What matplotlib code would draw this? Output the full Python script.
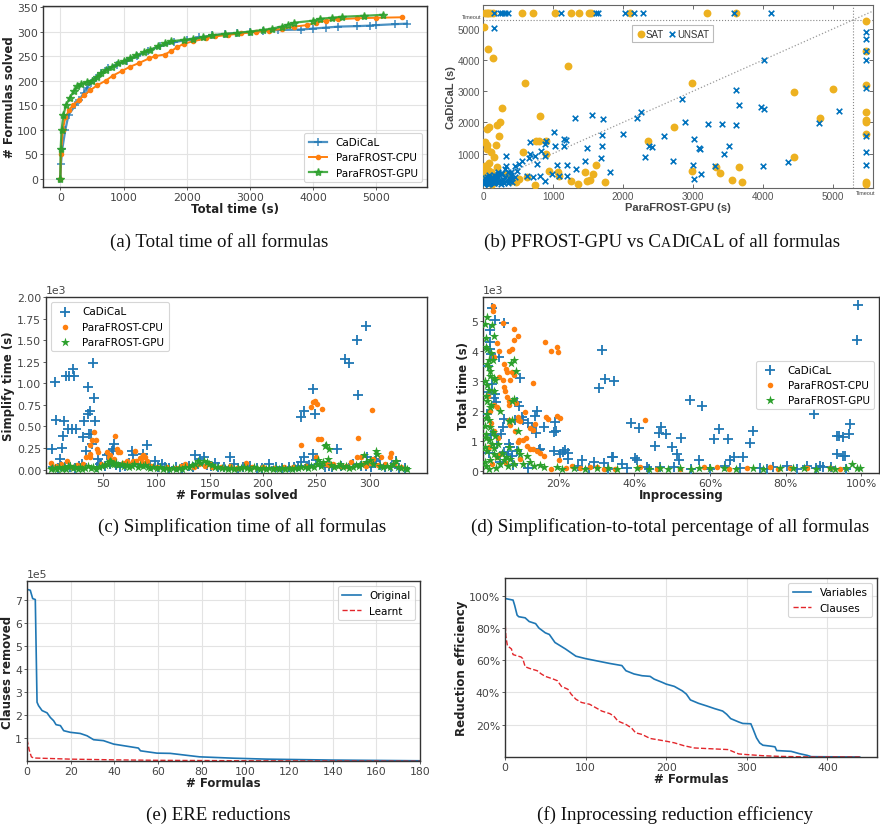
import numpy as np
import matplotlib
matplotlib.use("Agg")
import matplotlib.pyplot as plt
from matplotlib.ticker import PercentFormatter

# ---------------- (a) cactus data ----------------
cad_counts = [0, 30, 60, 100, 130, 150, 160, 175, 185, 195, 205, 215, 225, 232, 240, 250, 260, 270,
              278, 283, 288, 292, 295, 297, 299, 301, 303, 304, 306, 308, 310, 311, 312, 313, 315, 316]
cad_times = [0, 10, 30, 80, 130, 240, 300, 370, 420, 480, 560, 640, 760, 900, 1050, 1220, 1380, 1580,
             1800, 2000, 2200, 2400, 2600, 2800, 3000, 3200, 3450, 3800, 4000, 4200, 4400, 4700, 4900,
             5000, 5300, 5480]
cpu_counts = [0, 50, 100, 125, 140, 150, 160, 170, 180, 190, 200, 210, 220, 228, 236, 245, 250, 253,
              260, 268, 275, 280, 286, 290, 293, 296, 299, 302, 305, 310, 313, 318, 322, 325, 327, 328,
              329]
cpu_times = [0, 10, 40, 80, 140, 200, 290, 380, 470, 580, 720, 830, 980, 1100, 1250, 1400, 1500, 1650,
             1750, 1850, 1950, 2100, 2300, 2450, 2650, 2850, 3100, 3300, 3500, 3700, 3900, 4050, 4200,
             4400, 4700, 5000, 5400]
gpu_counts = [0, 60, 100, 130, 150, 165, 178, 188, 193, 197, 200, 208, 215, 222, 228, 235, 240, 246,
              252, 258, 263, 270, 276, 280, 283, 285, 288, 292, 295, 297, 300, 303, 306, 310, 314, 318,
              322, 326, 328, 330, 332, 334]
gpu_times = [0, 5, 20, 50, 90, 150, 210, 270, 330, 420, 500, 580, 650, 730, 820, 920, 1000, 1100,
             1200, 1330, 1420, 1550, 1650, 1750, 1950, 2100, 2250, 2400, 2600, 2800, 3000, 3200, 3350,
             3500, 3600, 3700, 4000, 4100, 4300, 4450, 4800, 5100]

# ---------------- (b) scatter data ----------------
sat_gpu = [25, 50, 75, 100, 145, 560, 720, 1030, 1260, 1370,
           1510, 1545, 2100, 3200, 3610, 15, 70, 145, 600, 1215,
           270, 820, 240, 200, 85, 50, 230, 190, 25, 50,
           60, 110, 160, 40, 70, 25, 120, 170, 570, 900,
           800, 760, 900, 940, 1070, 1080, 1260, 1360, 1460, 1480,
           1530, 1570, 1620, 1740, 2360, 2730, 2990, 2990, 3330, 3390,
           3550, 3650, 3700, 4440, 4440, 4820, 5000, 5470, 5470, 5470,
           5470, 5470, 5470, 5470, 5470, 5470, 740, 470, 400, 630,
           330, 510, 10, 20, 30, 45, 60, 90, 100, 130,
           180, 200]
sat_cad = [5500, 5500, 5500, 5500, 5500, 5500, 5500, 5500, 5500, 5500,
           5500, 5500, 5500, 5500, 5500, 5050, 4350, 4060, 3270, 3800,
           2450, 2190, 2020, 1910, 1860, 1790, 1550, 1280, 1360, 1270,
           1140, 1060, 900, 610, 480, 450, 420, 290, 1040, 1410,
           1410, 1410, 980, 450, 400, 270, 130, 20, 420, 130,
           150, 340, 640, 75, 1390, 1840, 450, 3250, 580, 370,
           160, 560, 85, 2960, 890, 2130, 3070, 5260, 4280, 3210,
           2320, 2090, 2000, 1630, 75, 20, 0, 100, 130, 240,
           340, 180, 100, 250, 600, 350, 180, 700, 50, 20,
           120, 560]
unsat_gpu = [157, 240, 267, 314, 357, 1110, 1620, 1640, 2030, 2150,
             2290, 3590, 4110, 157, 5476, 5476, 5476, 5476, 5476, 5476,
             5476, 5476, 4020, 3610, 3650, 3970, 4020, 5090, 4800, 3610,
             3410, 3220, 2880, 2840, 2250, 2200, 1720, 1560, 1310, 1010,
             2000, 1700, 1150, 1180, 1030, 900, 1150, 1490, 1700, 2590,
             2370, 2420, 3020, 3090, 3100, 3520, 3440, 1690, 2310, 2710,
             3000, 3010, 3120, 3320, 4000, 4360, 1450, 1820, 1330, 1200,
             1060, 1200, 880, 670, 670, 650, 770, 830, 890, 330,
             330, 520, 560, 740, 480, 630, 710, 890, 400, 260,
             190, 140, 95, 50, 10, 70, 120, 210, 310, 380,
             450, 810, 980, 1090, 30, 60, 90, 130, 170, 220,
             280, 350, 420, 20, 80, 150, 15, 25, 35, 45,
             55, 65, 75, 85, 100, 110, 125, 135, 150, 160,
             175, 190, 205, 220, 240, 255, 270, 290, 300, 320,
             340, 360, 375, 400, 420, 460]
unsat_cad = [5500, 5500, 5500, 5500, 5500, 5500, 5500, 5500, 5500, 5500,
             5500, 5500, 5500, 5020, 4890, 4670, 4280, 4000, 3090, 1570,
             1040, 640, 4000, 3050, 2560, 2480, 2430, 2350, 1970, 1910,
             1950, 1950, 2000, 2750, 2340, 2140, 2110, 2240, 2140, 1700,
             1630, 1600, 1470, 1440, 1250, 1410, 1230, 1180, 1250, 1570,
             1250, 1200, 1470, 1180, 1150, 1250, 980, 840, 890, 770,
             640, 180, 340, 590, 610, 720, 750, 420, 500, 640,
             640, 290, 930, 1360, 980, 860, 660, 1090, 1300, 930,
             610, 660, 770, 930, 450, 290, 240, 130, 400, 340,
             290, 180, 130, 75, 20, 40, 100, 400, 500, 130,
             610, 290, 340, 290, 60, 120, 30, 200, 90, 250,
             150, 60, 200, 10, 230, 60, 50, 120, 200, 80,
             260, 150, 30, 320, 60, 180, 240, 90, 300, 40,
             150, 210, 80, 330, 120, 20, 380, 190, 60, 260,
             110, 420, 210, 300, 90, 250]

# ---------------- (c) simplify time vs formula index ----------------
c_cad_x = [2, 4, 5, 9, 11, 12, 13, 15, 17, 18,
           20, 21, 22, 24, 31, 32, 34, 35, 35, 37,
           36, 38, 40, 41, 42, 39, 47, 53, 58, 60,
           59, 77, 78, 87, 91, 98, 105, 136, 141, 144,
           155, 169, 173, 206, 236, 236, 238, 238, 247, 249,
           247, 250, 269, 277, 281, 288, 289, 297, 298, 305,
           306, 325, 241, 253, 262, 297, 3, 7, 10, 14,
           19, 23, 27, 30, 44, 48, 51, 56, 62, 66,
           70, 74, 82, 94, 101, 108, 112, 118, 124, 130,
           134, 139, 147, 151, 158, 163, 176, 181, 188, 194,
           199, 212, 218, 224, 229, 233, 243, 258, 265, 273,
           284, 292, 301, 310, 315, 320, 328, 333, 55, 45]
c_cad_y = [240, 1020, 570, 125, 250, 390, 565, 1085, 475, 1085,
           475, 1170, 1085, 475, 375, 565, 220, 960, 650, 680,
           410, 410, 1240, 830, 565, 300, 65, 175, 220, 300,
           240, 220, 165, 180, 290, 100, 65, 165, 125, 145,
           75, 145, 65, 65, 85, 610, 680, 150, 930, 640,
           180, 115, 240, 1280, 1230, 1500, 870, 1660, 145, 105,
           125, 105, 45, 65, 45, 45, 30, 20, 45, 25,
           35, 15, 40, 60, 30, 55, 40, 70, 50, 35,
           45, 80, 60, 40, 25, 30, 20, 35, 20, 45,
           30, 60, 55, 45, 30, 25, 20, 30, 40, 20,
           15, 25, 20, 30, 25, 40, 50, 35, 30, 45,
           60, 40, 35, 50, 30, 25, 20, 15, 180, 120]
c_cpu_x = [1, 16, 31, 37, 39, 41, 43, 44, 45, 37,
           34, 37, 53, 55, 56, 61, 63, 64, 66, 72,
           78, 80, 81, 84, 86, 87, 89, 91, 86, 123,
           127, 169, 184, 236, 245, 247, 249, 251, 252, 254,
           255, 250, 288, 289, 292, 302, 311, 319, 320, 303,
           259, 266, 272, 297, 323, 5, 10, 20, 25, 28,
           48, 58, 68, 75, 95, 100, 110, 118, 135, 145,
           152, 160, 175, 190, 200, 210, 220, 228, 240, 262,
           278, 283, 295, 300, 308, 315, 330, 150, 140, 60]
c_cpu_y = [80, 105, 65, 145, 340, 435, 340, 240, 200, 280,
           145, 180, 200, 145, 165, 385, 240, 200, 200, 105,
           105, 220, 105, 135, 150, 165, 145, 105, 85, 45,
           65, 45, 75, 290, 730, 785, 800, 760, 355, 350,
           700, 145, 145, 370, 145, 690, 145, 145, 190, 125,
           65, 65, 45, 45, 65, 40, 60, 30, 50, 35,
           60, 90, 80, 60, 40, 30, 25, 20, 30, 40,
           25, 30, 20, 35, 25, 20, 30, 25, 40, 50,
           40, 90, 60, 80, 50, 60, 30, 60, 70, 120]
c_gpu_x = [2, 19, 55, 56, 58, 139, 144, 147, 252, 258,
           259, 262, 261, 272, 295, 300, 306, 307, 325, 1,
           4, 6, 8, 11, 13, 15, 17, 21, 23, 26,
           28, 30, 33, 35, 38, 40, 43, 46, 49, 51,
           53, 57, 60, 62, 64, 67, 69, 72, 74, 77,
           79, 82, 84, 87, 89, 92, 94, 97, 100, 103,
           106, 109, 112, 115, 118, 121, 124, 127, 130, 133,
           136, 141, 149, 152, 155, 158, 161, 164, 167, 170,
           173, 176, 179, 182, 185, 188, 191, 194, 197, 200,
           203, 206, 209, 212, 215, 218, 221, 224, 227, 230,
           233, 236, 239, 242, 245, 248, 251, 254, 256, 264,
           267, 270, 275, 278, 281, 284, 287, 290, 292, 297,
           303, 310, 313, 316, 319, 322, 327, 330, 333, 335]
c_gpu_y = [15, 45, 85, 105, 65, 95, 105, 85, 115, 270,
           280, 240, 125, 65, 165, 115, 220, 180, 105, 10,
           20, 8, 25, 12, 30, 10, 40, 15, 25, 10,
           35, 12, 20, 45, 15, 30, 10, 25, 40, 55,
           70, 90, 60, 75, 50, 65, 40, 55, 30, 45,
           60, 35, 50, 40, 55, 30, 20, 35, 15, 25,
           10, 20, 8, 15, 10, 20, 12, 25, 35, 50,
           65, 80, 70, 50, 35, 25, 15, 20, 10, 18,
           12, 22, 15, 30, 20, 12, 25, 15, 10, 20,
           12, 18, 10, 15, 8, 14, 10, 18, 12, 20,
           15, 25, 35, 20, 40, 30, 60, 45, 90, 50,
           30, 45, 25, 40, 20, 35, 55, 40, 70, 90,
           60, 45, 30, 40, 25, 60, 35, 20, 15, 10]

# ---------------- (d) total time vs inprocessing share ----------------
d_cad_x = [99.1, 98.9, 31.5, 32.2, 34.7, 30.7, 54.6, 57.9, 87.4, 97.1,
           96.7, 93.6, 94.1, 95.3, 93.6, 95.3, 95.7, 39.2, 41.3, 47.0,
           46.6, 48.3, 45.5, 50.1, 52.4, 51.4, 51.9, 62.3, 61.1, 64.7,
           71.3, 70.6, 68.7, 66.3, 65.4, 64.0, 57.1, 89.2, 91.9, 34.0,
           34.5, 40.2, 40.7, 36.8, 31.9, 29.4, 26.2, 22.5, 21.8, 21.1,
           20.3, 22.5, 19.1, 19.4, 18.9, 18.7, 16.0, 14.3, 13.7, 14.1,
           14.9, 15.2, 9.9, 9.0, 9.4, 10.3, 8.5, 10.7, 9.0, 4.1,
           3.2, 2.4, 1.9, 1.9, 1.9, 5.5, 3.3, 3.0, 1.5, 5.5,
           5.3, 4.8, 6.8, 7.2, 6.6, 5.5, 7.7, 11.9, 13.0, 80.4,
           85.6, 90.0, 76.8, 73.3, 43.3, 46.9, 50.4, 2.0, 1.2, 2.5,
           3.5, 1.0, 2.2, 3.8, 1.5, 4.5, 8.0, 12.0, 25.0, 28.0,
           33.0, 38.0, 44.0, 55.0, 60.0, 68.0, 75.0, 83.0, 88.0, 96.0]
d_cad_y = [5530, 4360, 4020, 3070, 2990, 2770, 2370, 2150, 1900, 1560,
           1230, 1170, 1170, 1140, 540, 500, 500, 1590, 1430, 1470,
           1250, 1210, 840, 780, 1100, 540, 340, 1400, 1060, 1060,
           1340, 920, 470, 470, 340, 170, 340, 170, 130, 450,
           450, 420, 340, 220, 250, 280, 370, 590, 690, 610,
           560, 390, 1640, 1340, 1280, 670, 1470, 2010, 1840, 1260,
           690, 730, 3110, 2290, 2150, 1810, 1680, 1680, 670, 3800,
           5030, 5450, 4690, 4300, 4080, 4940, 2570, 2440, 2630, 1730,
           1450, 1230, 890, 780, 560, 610, 500, 1590, 1450, 170,
           170, 130, 130, 90, 130, 130, 130, 3900, 3500, 2900,
           2300, 1900, 1200, 900, 600, 300, 200, 100, 150, 80,
           60, 100, 50, 70, 50, 90, 60, 50, 80, 60]
d_cpu_x = [2.6, 2.6, 5.3, 8.1, 9.3, 8.2, 3.7, 7.7, 4.3, 6.8,
           2.8, 16.5, 18.1, 19.6, 19.8, 5.5, 6.1, 6.3, 7.7, 8.1,
           5.3, 7.2, 4.1, 5.5, 13.1, 5.9, 6.3, 6.8, 6.8, 3.0,
           1.9, 3.7, 8.7, 11.2, 9.3, 16.7, 17.1, 19.6, 20.3, 42.7,
           9.3, 7.0, 9.9, 7.2, 12.5, 13.2, 13.8, 8.5, 2.8, 10.7,
           9.6, 11.5, 9.3, 11.6, 12.3, 13.2, 14.3, 15.2, 16.0, 20.2,
           23.5, 25.7, 28.4, 30.1, 35.0, 41.6, 46.0, 58.3, 61.9, 69.8,
           75.9, 81.2, 85.6, 91.8, 94.4, 2.4, 3.7, 4.6, 9.9, 1.2,
           2.0, 4.0, 1.5, 6.0, 18.0, 22.0, 32.0, 52.0, 65.0, 78.0]
d_cpu_y = [5500, 5340, 4940, 4730, 4490, 4360, 4270, 4080, 3990, 4000,
           3800, 4300, 4000, 4130, 3970, 3580, 3410, 3300, 3300, 3210,
           3020, 3020, 3130, 2790, 2930, 2680, 2480, 2320, 2180, 2210,
           2010, 2120, 2260, 1960, 1810, 1810, 1730, 1840, 1770, 1700,
           1680, 1680, 1650, 1510, 1430, 1370, 1560, 1340, 1340, 1010,
           1010, 1100, 950, 840, 730, 715, 670, 580, 500, 340,
           170, 90, 130, 110, 55, 130, 55, 130, 110, 80,
           130, 80, 80, 80, 55, 220, 450, 560, 390, 2500,
           1600, 1100, 800, 250, 60, 90, 50, 70, 60, 40]
d_gpu_x = [1.1, 0.6, 2.4, 2.8, 0.9, 0.8, 1.1, 1.5, 1.1, 1.7,
           1.8, 1.9, 2.8, 3.3, 1.1, 1.5, 0.8, 1.1, 1.9, 4.6,
           7.7, 8.1, 8.7, 7.4, 8.1, 7.0, 7.7, 9.3, 9.2, 6.8,
           9.9, 11.6, 1.1, 1.5, 1.9, 0.9, 1.5, 2.4, 1.1, 2.8,
           3.7, 1.9, 4.6, 5.5, 7.2, 8.1, 10.7, 13.4, 16.0, 19.6,
           24.0, 30.1, 35.4, 40.7, 46.9, 52.2, 57.0, 63.6, 71.4, 78.6,
           84.8, 91.8, 97.5, 98.9, 99.7, 0.5, 0.7, 0.4, 0.6, 0.8,
           2.2, 2.6, 0.5, 3.0, 2.0, 0.7, 2.6, 3.3, 3.0, 4.0,
           5.0, 6.0, 6.5, 12.5, 15.0, 21.0, 27.0, 33.0, 44.0, 49.0,
           55.0, 60.0, 67.0, 74.0, 82.0, 88.0, 93.0, 96.0, 3.5, 1.6]
d_gpu_y = [5140, 4890, 4860, 4490, 4450, 4130, 4060, 3710, 3580, 3460,
           3330, 3180, 3090, 3020, 2850, 2700, 2510, 2320, 2120, 2010,
           2320, 2400, 3350, 3610, 3690, 1650, 1680, 1340, 700, 780,
           560, 500, 1900, 1680, 1450, 1230, 1010, 890, 670, 560,
           450, 340, 220, 340, 390, 220, 220, 170, 110, 110,
           80, 80, 55, 80, 80, 80, 80, 80, 80, 80,
           80, 80, 220, 80, 80, 1500, 1100, 800, 300, 150,
           3950, 3700, 3000, 2650, 2200, 1750, 1300, 1150, 750, 900,
           600, 450, 150, 300, 200, 60, 40, 100, 40, 60,
           40, 90, 50, 40, 100, 40, 60, 100, 100, 40]

# ---------------- (e) ERE reductions ----------------
e_orig_x = [0, 1.5, 2.6, 3.8, 4.6, 5.3, 6.9, 9.2, 10.7, 12.2, 13.3, 15.3, 16.8, 19.8, 24.4, 27.5,
            30.5, 35, 39.7, 47, 51, 52, 59.5, 65.6, 79, 95, 110, 140, 180]
e_orig_y = [7.44e5, 7.40e5, 7.04e5, 7.00e5, 2.56e5, 2.41e5, 2.20e5, 2.10e5, 1.90e5, 1.76e5, 1.59e5,
            1.55e5, 1.33e5, 1.26e5, 1.21e5, 1.11e5, 0.94e5, 0.90e5, 0.75e5, 0.64e5, 0.58e5, 0.46e5,
            0.36e5, 0.35e5, 0.20e5, 0.14e5, 0.10e5, 0.06e5, 0.03e5]
e_learnt_x = [0, 1, 2, 3, 10, 20, 40, 60, 100, 180]
e_learnt_y = [0.95e5, 0.50e5, 0.20e5, 0.15e5, 0.13e5, 0.10e5, 0.07e5, 0.05e5, 0.03e5, 0.01e5]

# ---------------- (f) reduction efficiency (%) ----------------
f_var_x = [0, 10, 12, 15, 17, 25, 30, 38, 42, 50, 55, 62, 75, 88, 100, 110, 130, 145, 150, 160,
           170, 180, 185, 195, 200, 210, 220, 225, 230, 240, 250, 260, 270, 275, 280, 290, 295,
           305, 308, 312, 316, 320, 330, 335, 337, 355, 365, 375, 380, 440]
f_var_y = [98.3, 97.3, 94, 88, 87, 86.3, 84, 82.7, 80, 77, 76, 71, 67, 62.5, 61, 60, 58, 56.7, 53.5,
           51.5, 50.4, 50, 48.3, 46.3, 45.2, 43.8, 41, 39, 35.4, 33.3, 31.7, 30, 28.5, 26.5, 23.8,
           21.7, 20.8, 20.6, 17, 11.9, 8.7, 7.3, 6.7, 6.3, 4, 3.5, 2.1, 1, 0.2, 0]
f_cls_x = [0, 1, 3, 8, 10, 20, 22, 25, 30, 40, 45, 50, 60, 65, 70, 78, 82, 88, 95, 105, 110, 120,
           130, 135, 140, 150, 157, 162, 170, 180, 200, 210, 222, 235, 260, 277, 285, 290, 300,
           320, 340, 380, 440]
f_cls_y = [86, 75, 69, 67, 63.5, 62, 61, 56, 55, 53.5, 51.5, 50, 48.3, 47.3, 43.8, 42, 39, 35.8,
           33.8, 32.7, 31.3, 28.5, 26.9, 25.4, 22.3, 20.2, 18, 15, 14, 11.5, 9.8, 8.8, 7, 5.6, 5,
           4.6, 2.9, 1.9, 1.5, 0.8, 0.4, 0, 0]

# ================= figure =================
W, H = 880, 829
fig = plt.figure(figsize=(8.8, 8.29), dpi=100)
plt.rcParams['font.family'] = ['DejaVu Sans']

C_BLUE, C_ORANGE, C_GREEN = '#1f77b4', '#ff7f0e', '#2ca02c'
M_YEL, M_BLU = '#EDB120', '#0072BD'
TICK_FS = 7.8
LAB_FS = 8.5


def add_ax(l, r, t, b):
    return fig.add_axes([l / W, 1 - b / H, (r - l) / W, (b - t) / H])


def style(ax, grid=True):
    for s in ax.spines.values():
        s.set_color('#333333')
        s.set_linewidth(1.0)
    ax.tick_params(length=2, width=0.6, labelsize=TICK_FS, colors='#444444', pad=1.5)
    if grid:
        ax.grid(True, color='#e3e3e3', lw=0.8)
        ax.set_axisbelow(True)


def label(ax, xl, yl, xpad=0.5, ypad=1):
    ax.set_xlabel(xl, fontsize=LAB_FS, fontweight='bold', color='#222222', labelpad=xpad)
    ax.set_ylabel(yl, fontsize=LAB_FS, fontweight='bold', color='#222222', labelpad=ypad)


def legend(ax, **kw):
    lg = ax.legend(fontsize=7.5, frameon=True, fancybox=True, edgecolor='#cccccc',
                   handlelength=1.8, **kw)
    lg.get_frame().set_linewidth(0.8)
    return lg


def sci_offset(ax):
    ax.ticklabel_format(axis='y', style='sci', scilimits=(0, 0))
    ax.yaxis.get_offset_text().set_fontsize(TICK_FS)
    ax.yaxis.get_offset_text().set_color('#444444')


# ---- (a)
ax = add_ax(43, 427, 7, 188)
style(ax)
ax.plot(cad_times, cad_counts, '-+', color=C_BLUE, ms=6, mew=1.2, lw=1.6, alpha=0.8, label='CaDiCaL')
ax.plot(cpu_times, cpu_counts, '-o', color=C_ORANGE, ms=3, lw=1.4, label='ParaFROST-CPU')
ax.plot(gpu_times, gpu_counts, '-*', color=C_GREEN, ms=6, lw=1.6, alpha=0.85, label='ParaFROST-GPU')
ax.set_xlim(-274, 5800)
ax.set_ylim(-17, 352)
ax.set_xticks([0, 1000, 2000, 3000, 4000, 5000])
ax.set_yticks(range(0, 351, 50))
label(ax, 'Total time (s)', '# Formulas solved', xpad=0)
legend(ax, loc='lower right')

# ---- (b)
ax = add_ax(483, 873, 6, 189)
XMAX, YMAX = 5570, 5765
TIMEOUT = 5290
ax.set_xlim(0, XMAX)
ax.set_ylim(-107, YMAX)
ax.plot([0, XMAX], [0, XMAX], ':', color='#999999', lw=0.9, zorder=1)
ax.axhline(TIMEOUT, color='#888888', ls=':', lw=0.8, zorder=1)
ax.axvline(TIMEOUT, color='#888888', ls=':', lw=0.8, zorder=1)
ax.scatter(sat_gpu, sat_cad, s=32, color=M_YEL, marker='o', linewidths=0, label='SAT', zorder=3)
ax.scatter(unsat_gpu, unsat_cad, s=16, color=M_BLU, marker='x', linewidths=1.2, label='UNSAT', zorder=4)
for s in ax.spines.values():
    s.set_color('#666666')
    s.set_linewidth(0.8)
ax.tick_params(direction='in', top=True, right=True, length=3, width=0.6, labelsize=7.2,
               colors='#555555', pad=2)
ax.set_xticks([0, 1000, 2000, 3000, 4000, 5000])
ax.set_yticks([1000, 2000, 3000, 4000, 5000])
for t in ax.get_xticklabels() + ax.get_yticklabels():
    t.set_family('Liberation Sans')
    t.set_color('#555555')
ax.set_xlabel('ParaFROST-GPU (s)', fontsize=8, fontweight='bold', color='#444444', labelpad=1,
              family='Liberation Sans')
ax.set_ylabel('CaDiCaL (s)', fontsize=8, fontweight='bold', color='#444444', labelpad=1,
              family='Liberation Sans')
ax.text(-0.005, TIMEOUT + 40, 'Timeout', transform=ax.get_yaxis_transform(), ha='right', va='bottom',
        fontsize=4, color='#444444', family='Liberation Sans')
ax.text(TIMEOUT + 40, -0.01, 'Timeout', transform=ax.get_xaxis_transform(), ha='left', va='top',
        fontsize=4, color='#444444', family='Liberation Sans')
lg = ax.legend(loc='center', bbox_to_anchor=(0.486, 0.844), ncol=2, fontsize=7, frameon=True,
               fancybox=False, edgecolor='#aaaaaa', handletextpad=0.05, columnspacing=0.3,
               borderpad=0.35, handlelength=1.0, borderaxespad=0)
lg.get_frame().set_linewidth(0.8)
for t in lg.get_texts():
    t.set_family('Liberation Sans')
    t.set_color('#333333')

# ---- (c)
ax = add_ax(46, 427, 298, 474)
style(ax, grid=False)
ax.scatter(c_cad_x, c_cad_y, marker='+', s=42, color=C_BLUE, linewidths=1.3, label='CaDiCaL', zorder=3)
ax.scatter(c_cpu_x, c_cpu_y, marker='o', s=16, color=C_ORANGE, linewidths=0, label='ParaFROST-CPU', zorder=3)
ax.scatter(c_gpu_x, c_gpu_y, marker='*', s=48, color=C_GREEN, linewidths=0, label='ParaFROST-GPU', zorder=3)
ax.set_xlim(-4, 354)
ax.set_ylim(-39, 2000)
ax.set_xticks([50, 100, 150, 200, 250, 300])
ax.set_yticks(np.arange(0, 2001, 250))
sci_offset(ax)
label(ax, '# Formulas solved', 'Simplify time (s)', xpad=0)
legend(ax, loc='upper left')

# ---- (d)
ax = add_ax(483, 879, 298, 474)
style(ax, grid=False)
ax.scatter(d_cad_x, d_cad_y, marker='+', s=42, color=C_BLUE, linewidths=1.3, label='CaDiCaL', zorder=3)
ax.scatter(d_cpu_x, d_cpu_y, marker='o', s=16, color=C_ORANGE, linewidths=0, label='ParaFROST-CPU', zorder=3)
ax.scatter(d_gpu_x, d_gpu_y, marker='*', s=50, color=C_GREEN, linewidths=0, label='ParaFROST-GPU', zorder=3)
ax.set_xlim(0, 104.7)
ax.set_ylim(-80, 5810)
ax.set_xticks([20, 40, 60, 80, 100])
ax.xaxis.set_major_formatter(PercentFormatter(100, decimals=0))
ax.set_yticks(np.arange(0, 5001, 1000))
sci_offset(ax)
label(ax, 'Inprocessing', 'Total time (s)', xpad=0)
legend(ax, loc='center right')

# ---- (e)
ax = add_ax(27, 420, 582, 762)
style(ax)
ax.plot(e_orig_x, e_orig_y, '-', color=C_BLUE, lw=1.2, label='Original')
ax.plot(e_learnt_x, e_learnt_y, '--', color='#e3262b', lw=1.0, label='Learnt')
ax.set_xlim(0, 180)
ax.set_ylim(2000, 7.8e5)
ax.set_xticks(range(0, 181, 20))
ax.set_yticks([1e5, 2e5, 3e5, 4e5, 5e5, 6e5, 7e5])
sci_offset(ax)
label(ax, '# Formulas', 'Clauses removed', xpad=0)
legend(ax, loc='upper right')

# ---- (f)
ax = add_ax(505, 877, 579, 758)
style(ax)
ax.plot(f_var_x, f_var_y, '-', color=C_BLUE, lw=1.2, label='Variables')
ax.plot(f_cls_x, f_cls_y, '--', color='#e3262b', lw=1.0, label='Clauses')
ax.set_xlim(0, 461.5)
ax.set_ylim(0, 111)
ax.set_xticks([0, 100, 200, 300, 400])
ax.set_yticks([20, 40, 60, 80, 100])
ax.yaxis.set_major_formatter(PercentFormatter(100, decimals=0))
label(ax, '# Formulas', 'Reduction efficiency', xpad=0)
legend(ax, loc='upper right')

# ---- captions
fig.canvas.draw()
renderer = fig.canvas.get_renderer()


def caption(cx, base_y, pieces):
    texts, widths = [], []
    for s, fs in pieces:
        t = fig.text(0, 1 - base_y / H, s, fontsize=fs, family='Liberation Serif', va='baseline',
                     ha='left', color='#111111')
        widths.append(t.get_window_extent(renderer).width)
        texts.append(t)
    x = cx - sum(widths) / 2
    for t, w in zip(texts, widths):
        t.set_x(x / W)
        x += w


CAP = 13.6
SC = 10.2
caption(219, 247, [('(a) Total time of all formulas', CAP)])
caption(662, 247, [('(b) PFROST-GPU vs C', CAP), ('A', SC), ('D', CAP), ('I', SC), ('C', CAP),
                   ('A', SC), ('L', CAP), (' of all formulas', CAP)])
caption(242, 532, [('(c) Simplification time of all formulas', CAP)])
caption(670, 532, [('(d) Simplification-to-total percentage of all formulas', CAP)])
caption(218, 820, [('(e) ERE reductions', CAP)])
caption(675, 820, [('(f) Inprocessing reduction efficiency', CAP)])

fig.savefig('out.png', dpi=100)
